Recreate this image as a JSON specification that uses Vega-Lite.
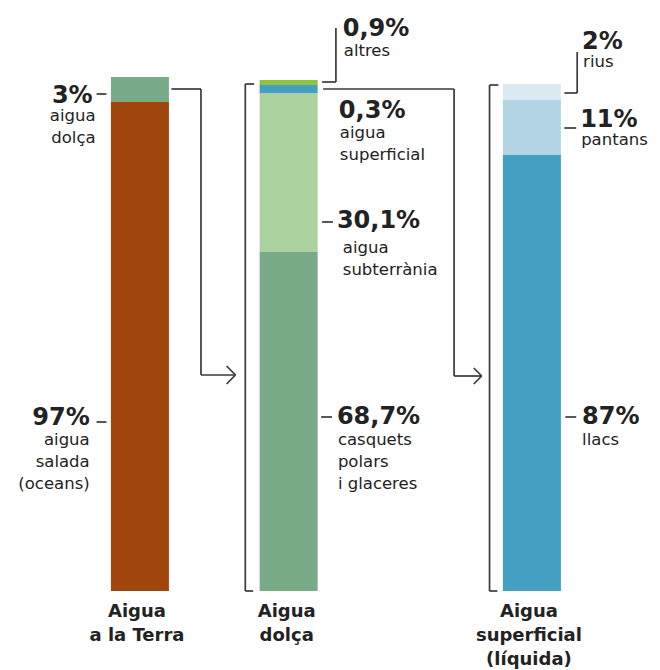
{
  "$schema": "https://vega.github.io/schema/vega-lite/v6.json",
  "width": 660,
  "height": 670,
  "autosize": {"type": "none"},
  "padding": 0,
  "background": "white",
  "config": {"view": {"stroke": null}},
  "datasets": {
    "bars": [
      {"bar": "Aigua a la Terra", "pos": 137, "segment": "aigua salada", "value": 489, "order": 1},
      {"bar": "Aigua a la Terra", "pos": 137, "segment": "aigua dolça", "value": 25, "order": 2},
      {"bar": "Aigua dolça", "pos": 288, "segment": "casquets polars", "value": 339, "order": 1},
      {"bar": "Aigua dolça", "pos": 288, "segment": "aigua subterrània", "value": 159, "order": 2},
      {"bar": "Aigua dolça", "pos": 288, "segment": "aigua superficial", "value": 8, "order": 3},
      {"bar": "Aigua dolça", "pos": 288, "segment": "altres", "value": 5, "order": 4},
      {"bar": "Aigua superficial", "pos": 535, "segment": "llacs", "value": 436, "order": 1},
      {"bar": "Aigua superficial", "pos": 535, "segment": "pantans", "value": 55, "order": 2},
      {"bar": "Aigua superficial", "pos": 535, "segment": "rius", "value": 16, "order": 3}
    ],
    "lines": [
      {"xa": 93, "xb": 103, "ya": 497, "yb": 497},
      {"xa": 93, "xb": 103, "ya": 169, "yb": 169},
      {"xa": 169, "xb": 199, "ya": 502, "yb": 502},
      {"xa": 199, "xb": 199, "ya": 502, "yb": 216},
      {"xa": 199, "xb": 234, "ya": 216, "yb": 216},
      {"xa": 225, "xb": 234, "ya": 225, "yb": 216},
      {"xa": 225, "xb": 234, "ya": 207, "yb": 216},
      {"xa": 244, "xb": 253, "ya": 507, "yb": 507},
      {"xa": 244, "xb": 244, "ya": 507, "yb": 0},
      {"xa": 244, "xb": 252, "ya": 0, "yb": 0},
      {"xa": 322, "xb": 336, "ya": 509, "yb": 509},
      {"xa": 336, "xb": 336, "ya": 509, "yb": 563},
      {"xa": 323, "xb": 456, "ya": 502, "yb": 502},
      {"xa": 456, "xb": 456, "ya": 502, "yb": 215},
      {"xa": 456, "xb": 484, "ya": 215, "yb": 215},
      {"xa": 476, "xb": 484, "ya": 223, "yb": 215},
      {"xa": 476, "xb": 484, "ya": 207, "yb": 215},
      {"xa": 322, "xb": 333, "ya": 369, "yb": 369},
      {"xa": 321, "xb": 332, "ya": 174, "yb": 174},
      {"xa": 492, "xb": 501, "ya": 506, "yb": 506},
      {"xa": 492, "xb": 492, "ya": 506, "yb": 0},
      {"xa": 492, "xb": 500, "ya": 0, "yb": 0},
      {"xa": 568, "xb": 581, "ya": 498, "yb": 498},
      {"xa": 581, "xb": 581, "ya": 498, "yb": 539},
      {"xa": 568, "xb": 580, "ya": 463, "yb": 463},
      {"xa": 569, "xb": 580, "ya": 174, "yb": 174}
    ],
    "labels": [
      {"kind": "pct_left", "x": 89, "y": 488, "text": "3%"},
      {"kind": "label_left", "x": 92, "y": 470, "text": "aigua\ndolça"},
      {"kind": "pct_left", "x": 86, "y": 166, "text": "97%"},
      {"kind": "label_left", "x": 86, "y": 146, "text": "aigua\nsalada\n(oceans)"},
      {"kind": "pct", "x": 343, "y": 555, "text": "0,9%"},
      {"kind": "label", "x": 344, "y": 535, "text": "altres"},
      {"kind": "pct", "x": 339, "y": 473, "text": "0,3%"},
      {"kind": "label", "x": 340, "y": 453, "text": "aigua\nsuperficial"},
      {"kind": "pct", "x": 337, "y": 363, "text": "30,1%"},
      {"kind": "label", "x": 343, "y": 338, "text": "aigua\nsubterrània"},
      {"kind": "pct", "x": 337, "y": 167, "text": "68,7%"},
      {"kind": "label", "x": 338, "y": 146, "text": "casquets\npolars\ni glaceres"},
      {"kind": "pct", "x": 586, "y": 542, "text": "2%"},
      {"kind": "label", "x": 587, "y": 524, "text": "rius"},
      {"kind": "pct", "x": 584, "y": 464, "text": "11%"},
      {"kind": "label", "x": 585, "y": 446, "text": "pantans"},
      {"kind": "pct", "x": 586, "y": 167, "text": "87%"},
      {"kind": "label", "x": 586, "y": 146, "text": "llacs"},
      {"kind": "title", "x": 134, "y": -26, "text": "Aigua\na la Terra"},
      {"kind": "title", "x": 286, "y": -26, "text": "Aigua\ndolça"},
      {"kind": "title", "x": 532, "y": -26, "text": "Aigua\nsuperficial\n(líquida)"}
    ]
  },
  "layer": [
    {
      "data": {"name": "bars"},
      "mark": {"type": "bar", "width": 58, "orient": "vertical"},
      "encoding": {
        "x": {"field": "pos", "type": "quantitative", "scale": {"domain": [0, 660], "nice": false, "zero": false}, "axis": null},
        "y": {"field": "value", "type": "quantitative", "stack": "zero", "scale": {"domain": [-79, 591], "nice": false, "zero": false}, "axis": null},
        "order": {"field": "order", "type": "quantitative"},
        "color": {
          "field": "segment",
          "type": "nominal",
          "scale": {
            "domain": ["aigua salada", "aigua dolça", "casquets polars", "aigua subterrània", "aigua superficial", "altres", "llacs", "pantans", "rius"],
            "range": ["#a0450c", "#7aab88", "#7aab88", "#abd29e", "#449fc3", "#8cc43f", "#449fc3", "#b3d4e5", "#dbeaf2"]
          },
          "legend": null
        }
      }
    },
    {
      "data": {"name": "lines"},
      "mark": {"type": "rule", "stroke": "#3a3a3a", "strokeWidth": 1.7},
      "encoding": {
        "x": {"field": "xa", "type": "quantitative"},
        "x2": {"field": "xb"},
        "y": {"field": "ya", "type": "quantitative"},
        "y2": {"field": "yb"}
      }
    },
    {
      "data": {"name": "labels"},
      "transform": [{"filter": "datum.kind == 'pct_left'"}],
      "mark": {"type": "text", "align": "right", "baseline": "alphabetic", "font": "DejaVu Sans", "fontWeight": "bold", "fontSize": 24, "color": "#222222"},
      "encoding": {
        "x": {"field": "x", "type": "quantitative"},
        "y": {"field": "y", "type": "quantitative"},
        "text": {"field": "text"}
      }
    },
    {
      "data": {"name": "labels"},
      "transform": [{"filter": "datum.kind == 'pct'"}],
      "mark": {"type": "text", "align": "left", "baseline": "alphabetic", "font": "DejaVu Sans", "fontWeight": "bold", "fontSize": 24, "color": "#222222"},
      "encoding": {
        "x": {"field": "x", "type": "quantitative"},
        "y": {"field": "y", "type": "quantitative"},
        "text": {"field": "text"}
      }
    },
    {
      "data": {"name": "labels"},
      "transform": [{"filter": "datum.kind == 'label_left'"}],
      "mark": {"type": "text", "align": "right", "baseline": "alphabetic", "font": "DejaVu Sans", "fontSize": 16.5, "lineBreak": "\n", "lineHeight": 22, "color": "#222222"},
      "encoding": {
        "x": {"field": "x", "type": "quantitative"},
        "y": {"field": "y", "type": "quantitative"},
        "text": {"field": "text"}
      }
    },
    {
      "data": {"name": "labels"},
      "transform": [{"filter": "datum.kind == 'label'"}],
      "mark": {"type": "text", "align": "left", "baseline": "alphabetic", "font": "DejaVu Sans", "fontSize": 16.5, "lineBreak": "\n", "lineHeight": 22, "color": "#222222"},
      "encoding": {
        "x": {"field": "x", "type": "quantitative"},
        "y": {"field": "y", "type": "quantitative"},
        "text": {"field": "text"}
      }
    },
    {
      "data": {"name": "labels"},
      "transform": [{"filter": "datum.kind == 'title'"}],
      "mark": {"type": "text", "align": "center", "baseline": "alphabetic", "font": "DejaVu Sans", "fontWeight": "bold", "fontSize": 18, "lineBreak": "\n", "lineHeight": 24, "color": "#222222"},
      "encoding": {
        "x": {"field": "x", "type": "quantitative"},
        "y": {"field": "y", "type": "quantitative"},
        "text": {"field": "text"}
      }
    }
  ]
}
